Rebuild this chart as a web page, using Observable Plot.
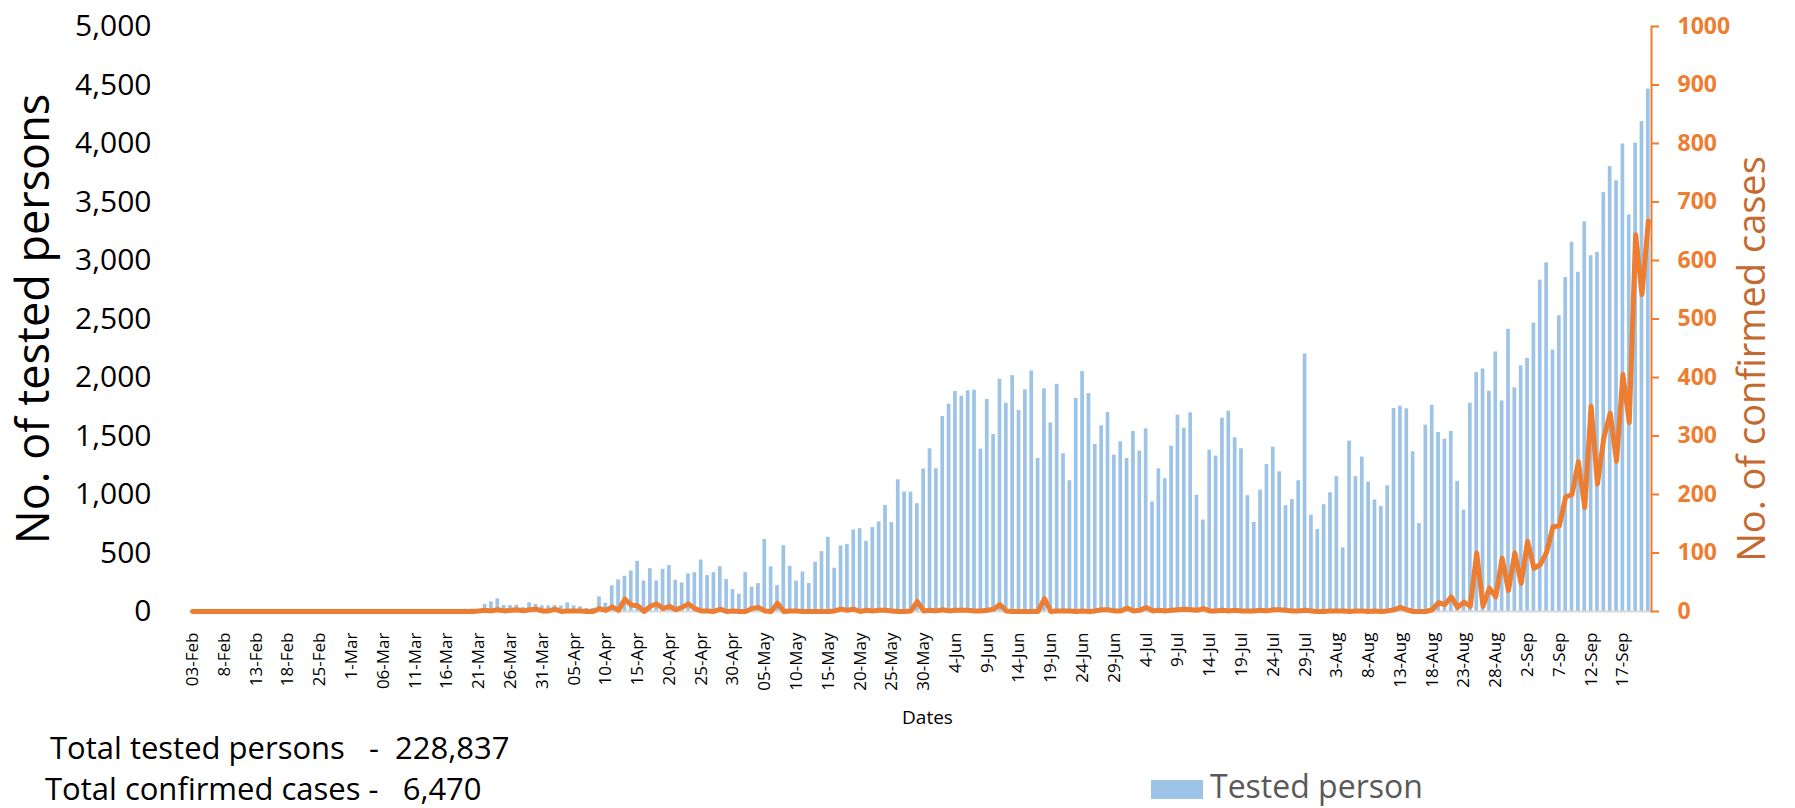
<!DOCTYPE html>
<html><head><meta charset="utf-8">
<script src="https://cdn.jsdelivr.net/npm/d3@7"></script>
<script src="https://cdn.jsdelivr.net/npm/@observablehq/plot@0.6"></script>
<style>
body{margin:0;background:#fff;font-family:"Open Sans",sans-serif;}
#wrap{position:relative;width:1795px;height:808px;overflow:hidden;background:#fff;}
.note{position:absolute;white-space:pre;font-size:31px;color:#000;line-height:1;}
.legtext{position:absolute;white-space:pre;font-size:32px;color:#595959;line-height:1;}
.swatch{position:absolute;background:#9DC3E6;}
</style></head><body><div id="wrap"></div>
<script>
// Tick labels shown every 5th category
const tickLabels = ["03-Feb","8-Feb","13-Feb","18-Feb","25-Feb","1-Mar","06-Mar","11-Mar","16-Mar","21-Mar","26-Mar","31-Mar","05-Apr","10-Apr","15-Apr","20-Apr","25-Apr","30-Apr","05-May","10-May","15-May","20-May","25-May","30-May","4-Jun","9-Jun","14-Jun","19-Jun","24-Jun","29-Jun","4-Jul","9-Jul","14-Jul","19-Jul","24-Jul","29-Jul","3-Aug","8-Aug","13-Aug","18-Aug","23-Aug","28-Aug","2-Sep","7-Sep","12-Sep","17-Sep"];

// Daily tested persons (left axis)
const tested = [
0,0,0,0,0,0,0,0,0,0,
0,0,0,0,0,0,0,0,0,0,
0,0,0,0,0,0,0,0,0,0,
0,0,0,0,0,0,0,0,0,0,
0,0,0,20,20,5,60,82,108,51,
51,54,34,74,60,48,48,51,48,74,
48,40,26,26,125,71,219,270,301,346,
429,261,366,261,361,392,267,244,321,332,
440,307,332,383,273,187,148,332,207,238,
615,381,222,563,387,259,338,239,421,512,
634,370,560,574,697,708,600,717,765,907,
759,1126,1021,1021,921,1217,1391,1220,1667,1772,
1880,1840,1886,1891,1388,1812,1513,1985,1780,2016,
1718,1894,2056,1308,1903,1612,1942,1348,1118,1820,
2050,1863,1428,1587,1701,1337,1450,1308,1539,1371,
1561,936,1220,1135,1413,1678,1567,1698,993,782,
1379,1328,1652,1712,1485,1391,990,762,1038,1257,
1405,1194,904,956,1118,2201,822,700,913,1015,
1152,545,1456,1152,1320,1106,953,899,1075,1735,
1755,1732,1365,751,1593,1763,1530,1473,1539,1112,
867,1780,2042,2073,1883,2218,1800,2412,1911,2099,
2164,2466,2832,2980,2235,2528,2854,3156,2900,3330,
3041,3068,3580,3803,3681,3996,3389,4003,4187,4465
];

// Daily confirmed cases (right axis)
const confirmed = [
0,0,0,0,0,0,0,0,0,0,
0,0,0,0,0,0,0,0,0,0,
0,0,0,0,0,0,0,0,0,0,
0,0,0,0,0,0,0,0,0,0,
0,0,0,0,0,1,2,1,3,1,
2,3,1,3,4,1,1,4,0,1,
1,1,0,0,5,2,8,2,21,11,
10,0,9,13,5,9,3,7,13,5,
1,1,0,4,0,1,0,0,5,7,
1,0,14,0,1,1,0,0,0,0,
0,1,4,2,4,0,2,1,2,2,
1,0,0,1,17,1,2,1,3,1,
2,2,2,1,1,2,4,12,1,0,
0,0,0,0,22,0,1,1,1,0,
1,0,1,3,3,1,1,6,1,2,
7,1,2,1,2,3,4,3,2,5,
1,1,2,1,2,1,1,1,2,1,
3,3,2,1,1,2,1,0,0,1,
1,1,0,1,1,0,1,0,1,3,
7,3,0,0,0,3,15,12,25,7,
16,9,100,9,40,25,91,36,100,48,
120,74,80,101,145,146,196,200,256,178,
351,218,297,339,257,405,323,644,542,667
];

const leftTicks = [0,500,1000,1500,2000,2500,3000,3500,4000,4500,5000];
const rightTicks = [0,100,200,300,400,500,600,700,800,900,1000];
const ratio = 5000 / 1000;

const categories = d3.range(tested.length);
const data = categories.map(i => ({i, t: tested[i], c: confirmed[i]}));

const plot = Plot.plot({
  width: 1795, height: 808,
  marginLeft: 189, marginRight: 144, marginTop: 26, marginBottom: 197,
  style: {fontFamily: "'Open Sans', sans-serif", background: "#fff", overflow: "visible"},
  x: {type: "band", domain: categories, paddingInner: 0.42, paddingOuter: 0.21},
  y: {domain: [0, 5000]},
  marks: [
    Plot.barY(data, {x: "i", y: "t", fill: "#9DC3E6"}),
    Plot.ruleY([0], {stroke: "#d9d9d9", strokeWidth: 2}),
    Plot.line(data, {x: "i", y: d => d.c * ratio, stroke: "#ED7D31", strokeWidth: 5, strokeLinejoin: "round", strokeLinecap: "round"}),
    Plot.axisY({anchor: "left", ticks: leftTicks, tickFormat: d3.format(","), tickSize: 0, tickPadding: 38, fontSize: 30, label: null}),
    Plot.axisY({anchor: "right", ticks: rightTicks.map(v => v * ratio), tickFormat: d => String(d / ratio), tickSize: 7, tickPadding: 19, fontSize: 23, fontWeight: 700, color: "#ED7D31", strokeWidth: 2, label: null}),
    Plot.axisX({ticks: tickLabels.map((_, k) => k * 5), tickFormat: d => tickLabels[d / 5], tickRotate: -90, tickSize: 0, tickPadding: 21, fontSize: 17, label: null}),
    Plot.frame({anchor: "right", stroke: "#ED7D31", strokeWidth: 2}),
    Plot.text(["No. of tested persons"], {frameAnchor: "left", textAnchor: "middle", rotate: -90, dx: -155, fontSize: 45, fill: "#000"}),
    Plot.text(["No. of confirmed cases"], {frameAnchor: "right", textAnchor: "middle", rotate: -90, dx: 101, dy: 40, fontSize: 38, fill: "#C46A30"}),
    Plot.text(["Dates"], {frameAnchor: "bottom", dx: 7, dy: 112, fontSize: 19, fill: "#000"})
  ]
});

const wrap = document.getElementById("wrap");
wrap.appendChild(plot);

const notes = [
  {text: "Total tested persons   -  228,837", left: 50, top: 732},
  {text: "Total confirmed cases -   6,470", left: 45, top: 773}
];
for (const n of notes) {
  const d = document.createElement("div");
  d.className = "note";
  d.textContent = n.text;
  d.style.left = n.left + "px";
  d.style.top = n.top + "px";
  wrap.appendChild(d);
}
const sw = document.createElement("div");
sw.className = "swatch";
Object.assign(sw.style, {left: "1151px", top: "780px", width: "52px", height: "19px"});
wrap.appendChild(sw);
const lt = document.createElement("div");
lt.className = "legtext";
lt.textContent = "Tested person";
Object.assign(lt.style, {left: "1210px", top: "770px"});
wrap.appendChild(lt);
</script>
</body></html>
